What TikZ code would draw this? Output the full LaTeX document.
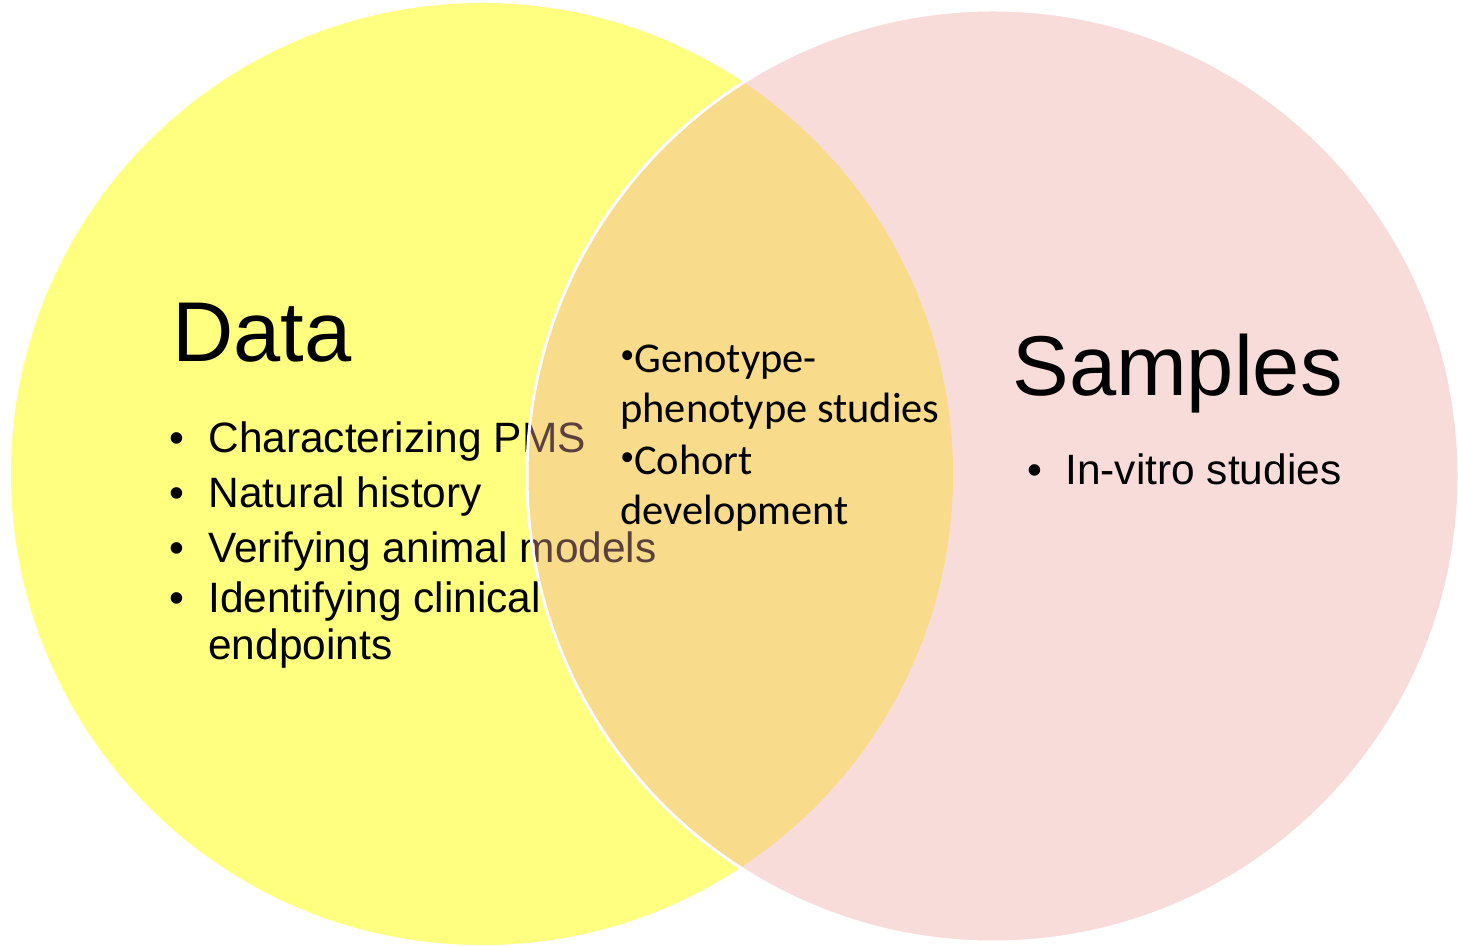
\documentclass[tikz,border=0pt]{standalone}
\usepackage{fontspec}
\setmainfont{Liberation Sans}
\newfontfamily\calibrifont{Carlito}
\usepackage{tikz}
\usetikzlibrary{positioning}

\definecolor{datafill}{RGB}{255,255,128}
\definecolor{samplefill}{RGB}{237,165,160}
% small raised bullet for the overlap list
\newcommand{\midbullet}{{\fontsize{14}{14}\selectfont\raisebox{4.6pt}{•}}}

\begin{document}
\begin{tikzpicture}[
  heading/.style={anchor=base west,inner sep=0pt,font=\fontsize{42.6}{50}\selectfont},
  item/.style={anchor=base west,inner sep=0pt,font=\fontsize{21.3}{25.5}\selectfont},
  dot/.style={anchor=base,inner sep=0pt,font=\fontsize{21.3}{25.5}\selectfont},
  midline/.style={anchor=base west,inner sep=0pt,font=\calibrifont\fontsize{21.3}{25.5}\selectfont},
]
\useasboundingbox (0bp,0bp) rectangle (729bp,473bp);
% left set
\fill [datafill] (241bp,236bp) circle (235.5bp);
\node[heading] (data) at (86bp,292bp) {Data};
\node[dot] (b1) at (88.5bp,246.5bp) {•};
\node[item] (pms) at (104bp,246.5bp) {Characterizing PMS};
\node[dot] (b2) at (88.5bp,219bp) {•};
\node[item] (nat) at (104bp,219bp) {Natural history};
\node[dot] (b3) at (88.5bp,191.5bp) {•};
\node[item] (anim) at (104bp,191.5bp) {Verifying animal models};
\node[dot] (b4) at (88.5bp,166.5bp) {•};
\node[item] (clin) at (104bp,166.5bp) {Identifying clinical};
\node[item] (endp) at (104bp,143bp) {endpoints};
% right set, laid over the left one
\draw [white,line width=1.5bp,fill=samplefill,fill opacity=0.39] (496.5bp,235bp) circle (233bp);
\node[heading] (samp) at (506bp,275bp) {Samples};
\node[dot] (b5) at (517.5bp,230.5bp) {•};
\node[item] (vitro) at (532.5bp,230.5bp) {In-vitro studies};
% overlap
\node[midline] (geno) at (310bp,286.5bp) {\midbullet Genotype-};
\node[midline] (pheno) at (310bp,261.5bp) {phenotype studies};
\node[midline] (coh) at (310bp,235.5bp) {\midbullet Cohort};
\node[midline] (dev) at (310bp,210.5bp) {development};
\end{tikzpicture}
\end{document}
